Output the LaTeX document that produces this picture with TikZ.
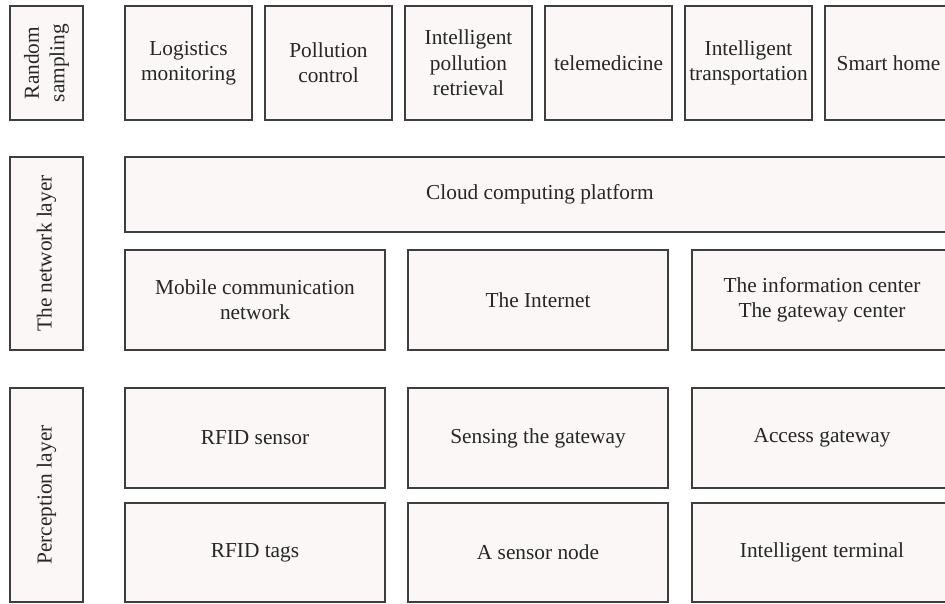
\documentclass[tikz,border=0pt]{standalone}
\usepackage{fontspec}
\setmainfont{Liberation Serif}
\usetikzlibrary{calc}

\definecolor{boxfill}{RGB}{250,247,246}
\definecolor{boxline}{RGB}{62,62,62}

\begin{document}
\begin{tikzpicture}[x=0.75pt,y=0.75pt,yscale=-1,xscale=1,
  box/.style={draw=boxline,fill=boxfill,line width=0.9pt,align=center,inner sep=1pt,
    font=\fontsize{16}{19}\selectfont,text=black!85},
  toprow/.style={box,minimum width=95.25pt,minimum height=85.5pt},
  widebox/.style={box,minimum width=195pt,minimum height=75pt},
  layerbox/.style={box,minimum width=54.75pt,rotate=90}]
%set diagram to 945 x 603
\clip (0,0) rectangle (945,603);

%Layer labels
\node [layerbox,minimum width=85.5pt,minimum height=54.75pt] (rs) at (46.5,63) {Random\\sampling};
\node [layerbox,minimum width=144.75pt,minimum height=54.75pt] (nl) at (46.5,253.5) {The network layer};
\node [layerbox,minimum width=160.5pt,minimum height=54.75pt] (pl) at (46.5,495) {Perception layer};

%Top row
\node [toprow] (logis) at (188.5,63) {Logistics\\monitoring};
\node [toprow] (pollu) at (328.5,63) {Pollution\\control};
\node [toprow] (retri) at (468.5,63) {Intelligent\\pollution\\retrieval};
\node [toprow] (telem) at (608.5,63) {telemedicine};
\node [toprow] (trans) at (748.5,63) {Intelligent\\transportation};
\node [toprow] (smart) at (888.5,63) {Smart home};

%Network layer
\node [box,minimum width=622.5pt,minimum height=56.25pt] (cloud) at (540,194.5) {Cloud computing platform};
\node [widebox] (mobile) at (255,300) {Mobile communication\\network};
\node [widebox] (inet) at (538,300) {The Internet};
\node [widebox] (info) at (822,300) {The information center\\The gateway center};

%Perception layer
\node [widebox] (rfids) at (255,438) {RFID sensor};
\node [widebox] (sgate) at (538,438) {Sensing the gateway};
\node [widebox] (agate) at (822,438) {Access gateway};
\node [widebox,minimum height=74.25pt] (rfidt) at (255,552.5) {RFID tags};
\node [widebox,minimum height=74.25pt] (snode) at (538,552.5) {A sensor node};
\node [widebox,minimum height=74.25pt] (iterm) at (822,552.5) {Intelligent terminal};

\end{tikzpicture}
\end{document}
